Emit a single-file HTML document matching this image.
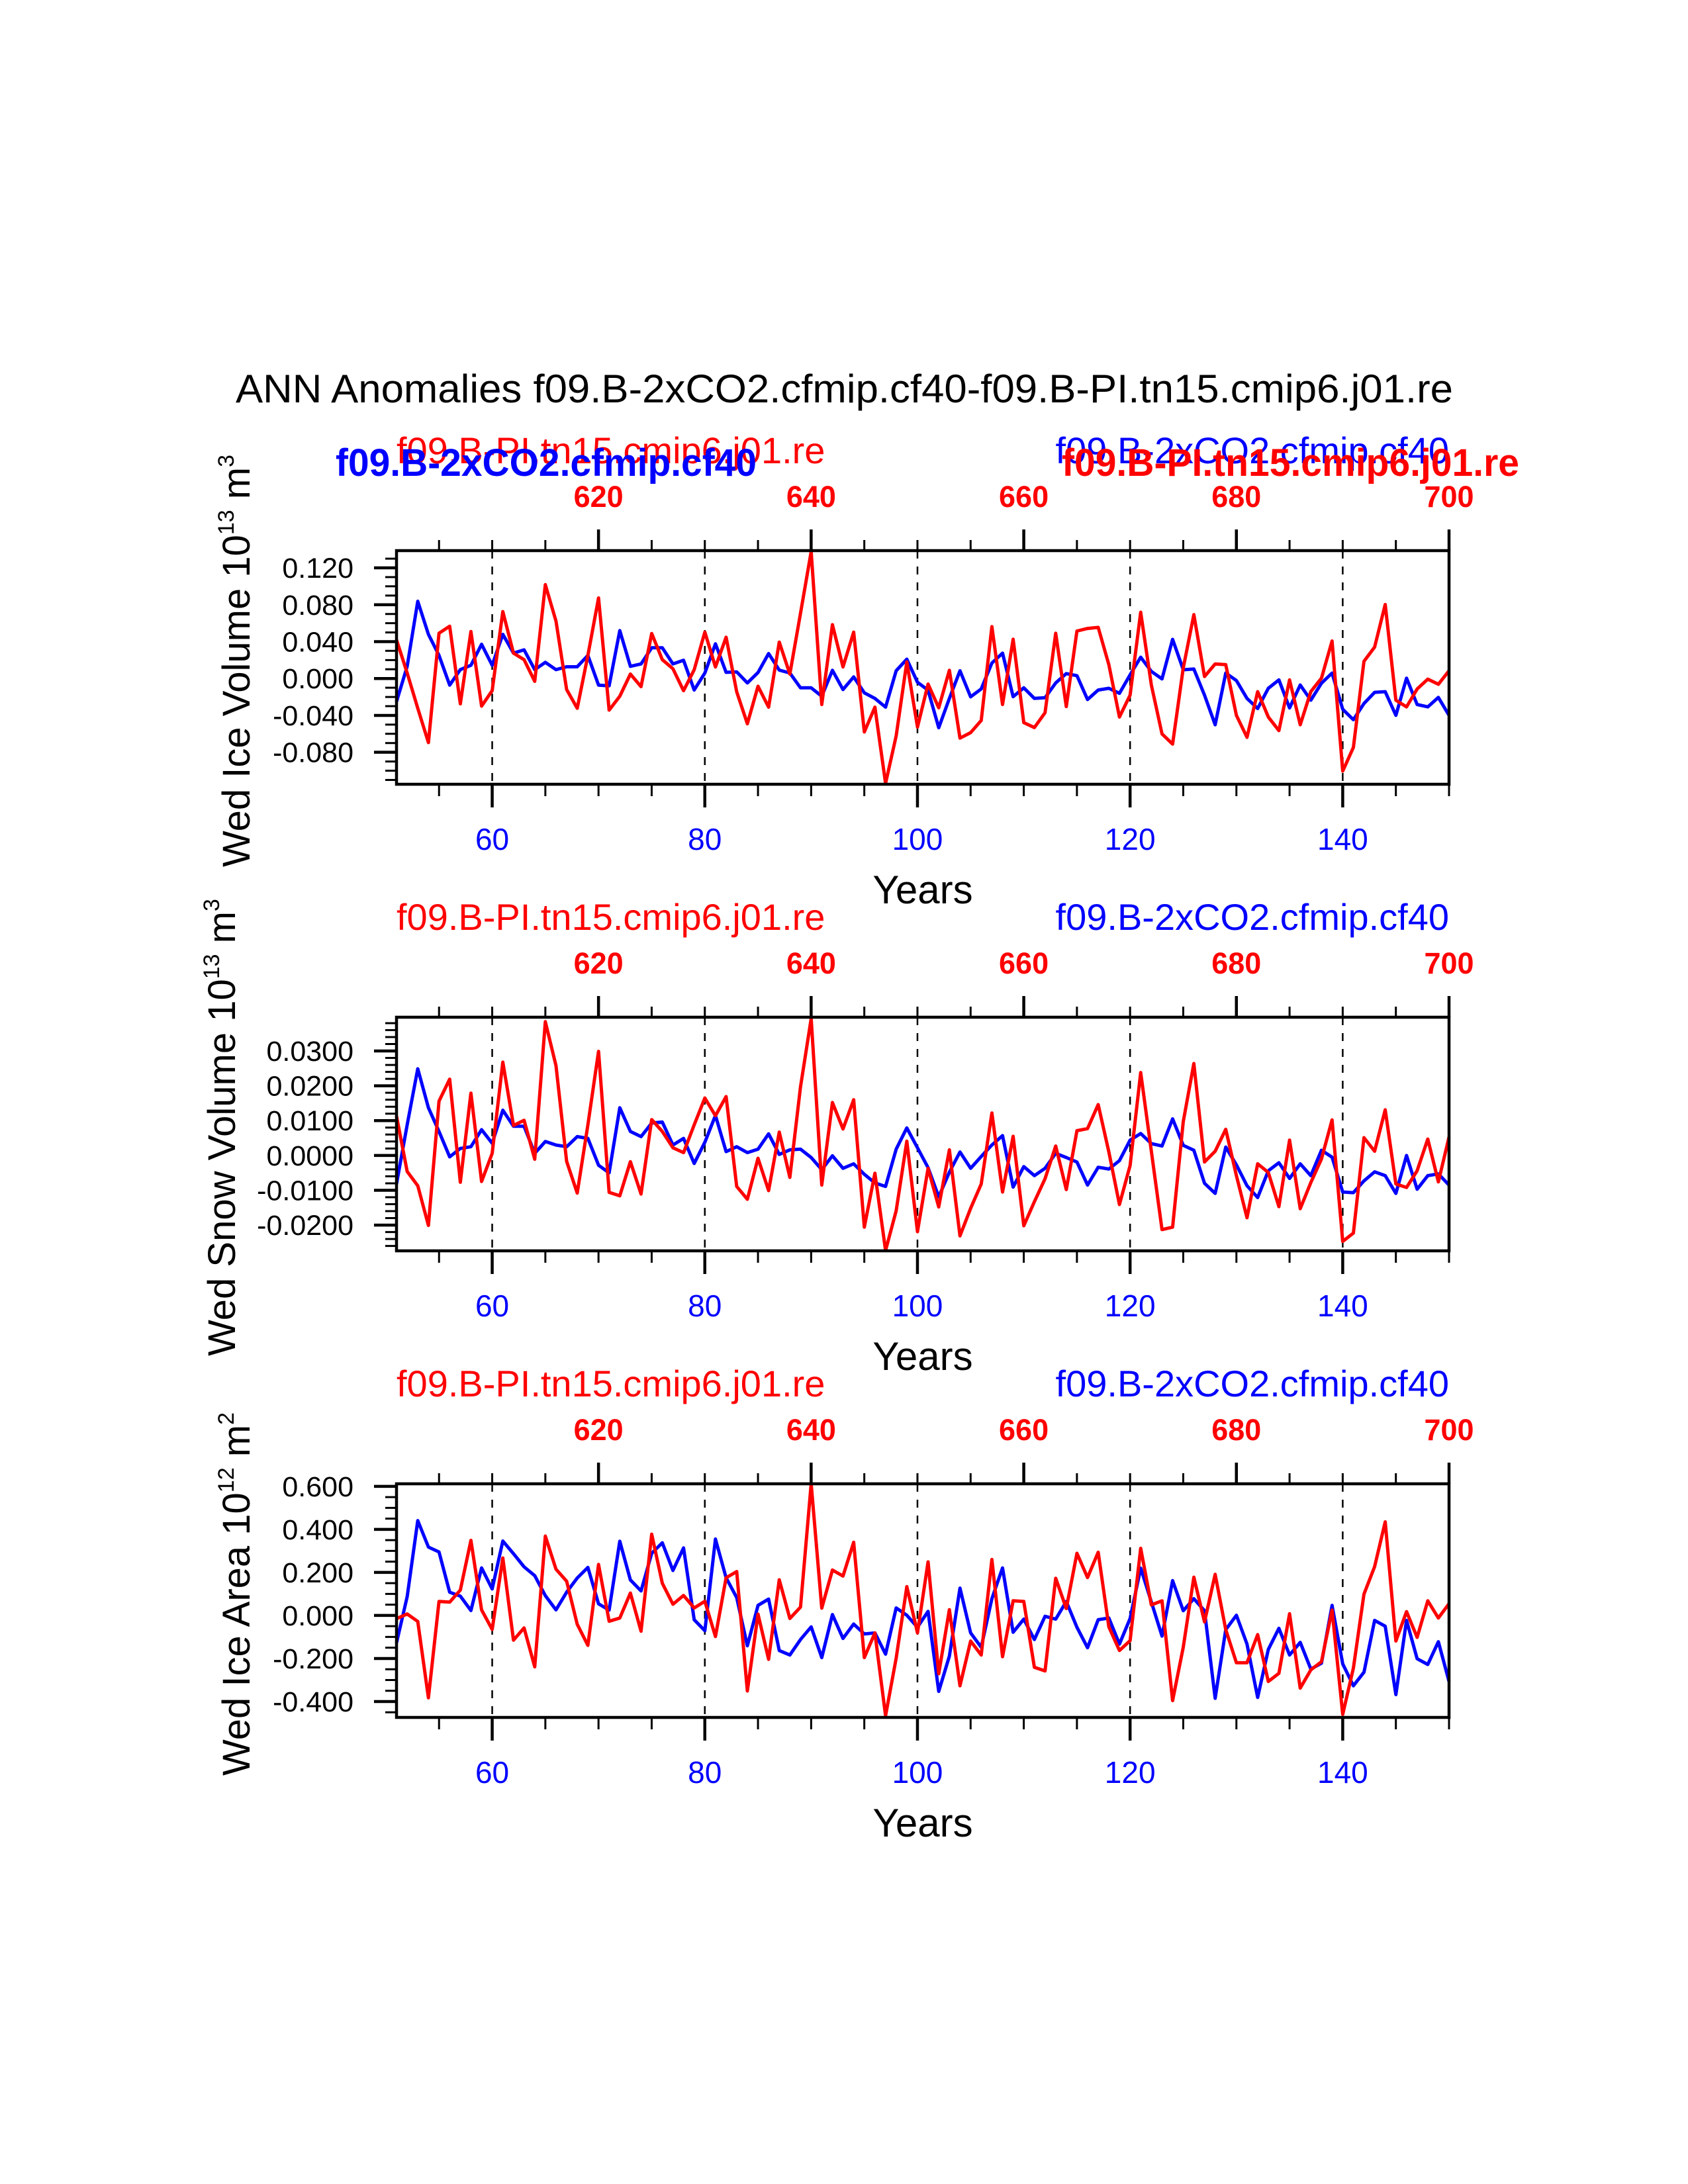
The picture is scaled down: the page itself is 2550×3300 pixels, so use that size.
<!DOCTYPE html>
<html><head><meta charset="utf-8"><style>
html,body{margin:0;padding:0;background:#fff}
svg{display:block}
text{font-family:"Liberation Sans",Arial,sans-serif}
</style></head><body>
<svg id="chart" width="2550" height="3300" viewBox="0 0 2550 3300" xmlns="http://www.w3.org/2000/svg">
<rect width="2550" height="3300" fill="#fff"/>
<text x="356" y="608" font-size="60" textLength="1839" lengthAdjust="spacingAndGlyphs">ANN Anomalies f09.B-2xCO2.cfmip.cf40-f09.B-PI.tn15.cmip6.j01.re</text>
</svg>
<script>
const years = [];
for (let y = 51; y <= 150; y++) years.push(y);
const iceVolPI = [0.0419,0.0060,-0.0323,-0.0695,0.0491,0.0567,-0.0275,0.0510,-0.0299,-0.0132,
0.0726,0.0275,0.0204,-0.0031,0.1018,0.0623,-0.0120,-0.0323,0.0251,0.0874,
-0.0343,-0.0192,0.0048,-0.0088,0.0488,0.0205,0.0106,-0.0132,0.0095,0.0503,
0.0125,0.0448,-0.0144,-0.0491,-0.0084,-0.0311,0.0395,0.0048,0.0707,0.1377,
-0.0282,0.0584,0.0125,0.0503,-0.0580,-0.0311,-0.1138,-0.0623,0.0180,-0.0527,
-0.0060,-0.0318,0.0089,-0.0647,-0.0587,-0.0455,0.0563,-0.0282,0.0426,-0.0479,
-0.0532,-0.0371,0.0491,-0.0304,0.0515,0.0543,0.0554,0.0150,-0.0418,-0.0180,
0.0719,-0.0070,-0.0601,-0.0711,0.0114,0.0693,0.0022,0.0158,0.0150,-0.0400,
-0.0638,-0.0143,-0.0418,-0.0565,-0.0015,-0.0502,-0.0143,0.0004,0.0407,-0.1004,
-0.0748,0.0187,0.0341,0.0803,-0.0235,-0.0308,-0.0114,-0.0007,-0.0062,0.0084];
const iceVolCO2 = [-0.0251,0.0132,0.0838,0.0479,0.0251,-0.0072,0.0096,0.0144,0.0371,0.0144,
0.0479,0.0275,0.0311,0.0096,0.0175,0.0096,0.0127,0.0127,0.0251,-0.0072,
-0.0079,0.0520,0.0132,0.0158,0.0334,0.0334,0.0158,0.0198,-0.0125,0.0060,
0.0376,0.0067,0.0072,-0.0048,0.0065,0.0271,0.0091,0.0060,-0.0101,-0.0101,
-0.0192,0.0089,-0.0120,0.0017,-0.0156,-0.0216,-0.0311,0.0084,0.0210,-0.0041,
-0.0127,-0.0534,-0.0216,0.0084,-0.0199,-0.0113,0.0168,0.0275,-0.0197,-0.0101,
-0.0216,-0.0209,-0.0048,0.0053,0.0031,-0.0228,-0.0125,-0.0106,-0.0161,0.0040,
0.0231,0.0077,-0.0004,0.0425,0.0095,0.0103,-0.0180,-0.0502,0.0059,-0.0022,
-0.0216,-0.0326,-0.0106,-0.0015,-0.0319,-0.0070,-0.0235,-0.0051,0.0059,-0.0334,
-0.0447,-0.0271,-0.0150,-0.0143,-0.0400,0.0004,-0.0282,-0.0308,-0.0205,-0.0400];
const snowVolPI = [0.0113,-0.0046,-0.0087,-0.0201,0.0156,0.0219,-0.0077,0.0179,-0.0075,0.0006,
0.0268,0.0086,0.0101,-0.0011,0.0384,0.0258,-0.0017,-0.0108,0.0088,0.0299,
-0.0106,-0.0116,-0.0018,-0.0111,0.0103,0.0069,0.0022,0.0008,0.0088,0.0165,
0.0114,0.0169,-0.0089,-0.0126,-0.0008,-0.0101,0.0067,-0.0063,0.0197,0.0393,
-0.0085,0.0152,0.0076,0.0160,-0.0206,-0.0051,-0.0273,-0.0159,0.0041,-0.0219,
-0.0037,-0.0148,0.0016,-0.0231,-0.0152,-0.0082,0.0122,-0.0105,0.0055,-0.0202,
-0.0133,-0.0067,0.0027,-0.0098,0.0071,0.0077,0.0146,0.0010,-0.0141,-0.0029,
0.0238,0.0012,-0.0213,-0.0206,0.0097,0.0264,-0.0019,0.0012,0.0075,-0.0058,
-0.0179,-0.0024,-0.0049,-0.0147,0.0044,-0.0153,-0.0078,-0.0010,0.0102,-0.0247,
-0.0223,0.0051,0.0012,0.0131,-0.0082,-0.0092,-0.0044,0.0047,-0.0076,0.0053];
const snowVolCO2 = [-0.0082,0.0088,0.0249,0.0137,0.0069,-0.0004,0.0020,0.0025,0.0074,0.0035,
0.0130,0.0084,0.0084,0.0006,0.0040,0.0030,0.0025,0.0054,0.0049,-0.0028,
-0.0050,0.0137,0.0069,0.0054,0.0093,0.0096,0.0030,0.0049,-0.0023,0.0038,
0.0115,0.0011,0.0025,0.0008,0.0018,0.0062,0.0003,0.0016,0.0018,-0.0006,
-0.0041,-0.0001,-0.0037,-0.0024,-0.0054,-0.0079,-0.0089,0.0018,0.0079,0.0022,
-0.0035,-0.0119,-0.0048,0.0010,-0.0037,-0.0003,0.0030,0.0057,-0.0091,-0.0032,
-0.0058,-0.0037,0.0006,-0.0006,-0.0019,-0.0085,-0.0034,-0.0039,-0.0015,0.0044,
0.0063,0.0034,0.0027,0.0105,0.0029,0.0015,-0.0080,-0.0109,0.0024,-0.0027,
-0.0087,-0.0121,-0.0044,-0.0021,-0.0066,-0.0024,-0.0058,0.0015,-0.0005,-0.0105,
-0.0107,-0.0073,-0.0047,-0.0058,-0.0109,0.0000,-0.0097,-0.0058,-0.0053,-0.0085];
const iceAreaPI = [-0.015,0.007,-0.028,-0.383,0.065,0.062,0.118,0.349,0.026,-0.065,
0.267,-0.115,-0.058,-0.239,0.369,0.215,0.159,-0.041,-0.139,0.237,
-0.027,-0.012,0.104,-0.073,0.378,0.150,0.052,0.093,0.035,0.066,
-0.098,0.175,0.204,-0.351,0.006,-0.204,0.166,-0.014,0.039,0.612,
0.034,0.211,0.183,0.340,-0.196,-0.081,-0.466,-0.199,0.134,-0.081,
0.249,-0.271,0.027,-0.327,-0.119,-0.184,0.260,-0.192,0.068,0.065,
-0.241,-0.258,0.173,0.032,0.289,0.176,0.294,-0.053,-0.163,-0.117,
0.312,0.049,0.068,-0.396,-0.148,0.178,-0.030,0.191,-0.066,-0.220,
-0.220,-0.089,-0.307,-0.269,0.008,-0.338,-0.253,-0.215,0.025,-0.460,
-0.245,0.099,0.227,0.435,-0.119,0.018,-0.102,0.068,-0.012,0.055];
const iceAreaCO2 = [-0.128,0.087,0.441,0.318,0.295,0.108,0.090,0.023,0.221,0.123,
0.346,0.287,0.226,0.185,0.092,0.026,0.108,0.174,0.223,0.054,
0.025,0.345,0.165,0.114,0.289,0.338,0.209,0.314,-0.020,-0.071,
0.355,0.175,0.083,-0.141,0.047,0.076,-0.163,-0.184,-0.112,-0.053,
-0.196,0.004,-0.107,-0.040,-0.086,-0.081,-0.180,0.035,0.001,-0.055,
0.019,-0.353,-0.189,0.127,-0.081,-0.148,0.078,0.221,-0.078,-0.017,
-0.112,-0.004,-0.017,0.065,-0.055,-0.150,-0.020,-0.012,-0.133,-0.014,
0.220,0.063,-0.096,0.162,0.022,0.078,0.022,-0.385,-0.066,0.001,
-0.133,-0.381,-0.158,-0.060,-0.184,-0.125,-0.249,-0.222,0.047,-0.225,
-0.327,-0.264,-0.023,-0.050,-0.368,-0.023,-0.201,-0.228,-0.122,-0.307];
const bottomTickYears = [60,80,100,120,140];
const bottomTickLabels = ["60","80","100","120","140"];
const topTickYears = [70,90,110,130,150];
const topTickLabels = ["620","640","660","680","700"];
const yTicks1 = [0.12,0.08,0.04,0,-0.04,-0.08];
const yLabels1 = ["0.120","0.080","0.040","0.000","-0.040","-0.080"];
const yTicks2 = [0.03,0.02,0.01,0,-0.01,-0.02];
const yLabels2 = ["0.0300","0.0200","0.0100","0.0000","-0.0100","-0.0200"];
const yTicks3 = [0.6,0.4,0.2,0,-0.2,-0.4];
const yLabels3 = ["0.600","0.400","0.200","0.000","-0.200","-0.400"];

const NS = "http://www.w3.org/2000/svg";
const svg = document.getElementById("chart");
const X0 = 599, X1 = 2189, YR0 = 51, YR1 = 150;
function xs(yr){ return X0 + (yr - YR0) * (X1 - X0) / (YR1 - YR0); }
function mk(tag, attrs, parent){ const e = document.createElementNS(NS, tag); for (const k in attrs) e.setAttribute(k, attrs[k]); (parent||svg).appendChild(e); return e; }

const panels = [
 {top:832, ymin:-0.1147, ymax:0.1387, minor:0.01, ticks:yTicks1, labels:yLabels1, red:iceVolPI, blue:iceVolCO2, title:["Wed Ice Volume 10","13"," m","3"], tx:377, key:"ice-volume"},
 {top:1537, ymin:-0.0274, ymax:0.0397, minor:0.002, ticks:yTicks2, labels:yLabels2, red:snowVolPI, blue:snowVolCO2, title:["Wed Snow Volume 10","13"," m","3"], tx:355, key:"snow-volume"},
 {top:2242, ymin:-0.474, ymax:0.612, minor:0.05, ticks:yTicks3, labels:yLabels3, red:iceAreaPI, blue:iceAreaCO2, title:["Wed Ice Area 10","12"," m","2"], tx:377, key:"ice-area"}
];
const H = 353;

panels.forEach((p, pi) => {
  const g = mk("g", {});
  
  
  const bot = p.top + H;
  const ys = v => bot - (v - p.ymin) / (p.ymax - p.ymin) * H;
  bottomTickYears.forEach(yr => {
    const l = mk("line", {x1:xs(yr), x2:xs(yr), y1:p.top, y2:bot, stroke:"#000", "stroke-width":2.5, "stroke-dasharray":"12 12"}, g);
    
    
  });
  [["red", "#ff0000", "pi-series"], ["blue", "#0000ff", "2xco2-series"]].reverse().forEach(([k, c, nm]) => {
    const pts = years.map((yr, i) => xs(yr).toFixed(1) + "," + ys(p[k][i]).toFixed(1)).join(" ");
    const pl = mk("polyline", {points:pts, fill:"none", stroke:c, "stroke-width":5, "stroke-linejoin":"round"}, g);
    
    
  });
  const box = mk("rect", {x:X0, y:p.top, width:X1 - X0, height:H, fill:"none", stroke:"#000", "stroke-width":4.5}, g);
  
  
  for (let yr = 55; yr <= 150; yr += 5) {
    const major = bottomTickYears.includes(yr);
    const t = mk("line", {x1:xs(yr), x2:xs(yr), y1:bot, y2:bot + (major ? 35 : 18), stroke:"#000", "stroke-width":major ? 4.5 : 3}, g);
    
    
    const topMajor = topTickYears.includes(yr);
    const t2 = mk("line", {x1:xs(yr), x2:xs(yr), y1:p.top, y2:p.top - (topMajor ? 32 : 16), stroke:"#000", "stroke-width":topMajor ? 4.5 : 3}, g);
    
    
  }
  bottomTickYears.forEach((yr, i) => {
    const t = mk("text", {x:xs(yr), y:bot + 99, "font-size":46, fill:"#0000ff", "text-anchor":"middle"}, g);
    t.textContent = bottomTickLabels[i];
    
    
  });
  topTickYears.forEach((yr, i) => {
    const t = mk("text", {x:xs(yr), y:p.top - 66, "font-size":45, "font-weight":"bold", fill:"#ff0000", "text-anchor":"middle"}, g);
    t.textContent = topTickLabels[i];
    
    
  });
  const nMin = Math.ceil(p.ymin / p.minor - 1e-6), nMax = Math.floor(p.ymax / p.minor + 1e-6);
  const step = p.ticks[0] - p.ticks[1];
  for (let n = nMin; n <= nMax; n++) {
    const v = n * p.minor;
    const major = Math.abs(v / step - Math.round(v / step)) < 1e-6;
    const t = mk("line", {x1:X0, x2:X0 - (major ? 34 : 17), y1:ys(v), y2:ys(v), stroke:"#000", "stroke-width":major ? 4.5 : 3}, g);
    
    
  }
  p.ticks.forEach((v, i) => {
    const t = mk("text", {x:534, y:ys(v) + 15, "font-size":43, "text-anchor":"end"}, g);
    t.textContent = p.labels[i];
    
    
  });
  const yt = mk("text", {transform:"translate(" + p.tx + "," + (p.top + H / 2 - 10) + ") rotate(-90)", "font-size":58, "text-anchor":"middle"}, g);
  
  
  p.title.forEach((s, i) => {
    const ts = mk("tspan", {}, yt);
    if (i % 2 === 1) { ts.setAttribute("font-size", "34"); ts.setAttribute("dy", "-24"); }
    else if (i > 0) { ts.setAttribute("dy", "24"); }
    ts.textContent = s;
  });
  const xt = mk("text", {x:(X0 + X1) / 2, y:bot + 180, "font-size":60, "text-anchor":"middle"}, g);
  xt.textContent = "Years";
  
  
  const rs = mk("text", {x:X0, y:p.top - 132, "font-size":56, fill:"#ff0000"}, g);
  rs.textContent = "f09.B-PI.tn15.cmip6.j01.re";
  
  
  const bs = mk("text", {x:X1, y:p.top - 132, "font-size":56, fill:"#0000ff", "text-anchor":"end"}, g);
  bs.textContent = "f09.B-2xCO2.cfmip.cf40";
  
  
  if (pi === 0) {
    const b2 = mk("text", {x:507, y:p.top - 113, "font-size":58, "font-weight":"bold", fill:"#0000ff", textLength:636, lengthAdjust:"spacingAndGlyphs"}, g);
    b2.textContent = "f09.B-2xCO2.cfmip.cf40";
    
    
    const r2 = mk("text", {x:1604, y:p.top - 113, "font-size":58, "font-weight":"bold", fill:"#ff0000", textLength:691, lengthAdjust:"spacingAndGlyphs"}, g);
    r2.textContent = "f09.B-PI.tn15.cmip6.j01.re";
    
    
  }
});
</script>
</body></html>
